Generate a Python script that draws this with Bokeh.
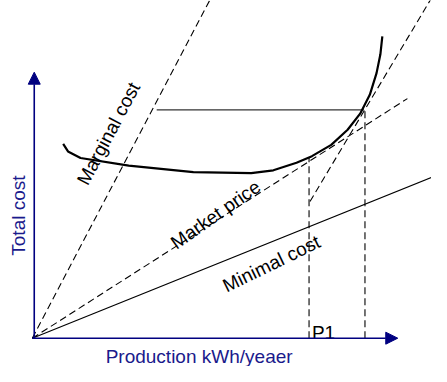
from bokeh.plotting import figure
from bokeh.models import Range1d, Arrow, NormalHead
from bokeh.core.properties import value
from bokeh.embed import file_html
from bokeh.resources import INLINE
import math

# ---- data (origin = zero production / zero cost) ----
cost_x = [32, 37, 50, 100, 167, 227, 250, 274, 290, 310, 327, 340, 350, 357, 361, 363]
cost_y = [206, 198, 191, 183, 176, 175, 178, 186, 193, 205, 221, 238, 258, 281, 301, 320]

marginal_x = [0, 188]
marginal_y = [0, 366]

market_x = [0, 389]
market_y = [0, 254]

tangent_x = [288, 416]
tangent_y = [145, 364]

minimal_x = [0, 420]
minimal_y = [0, 173]

level_x = [129, 344]
level_y = [242, 242]

p1_x = [287, 287]
p1_y = [0, 191]

p2_x = [345, 345]
p2_y = [0, 242]

xaxis_end = 379
yaxis_end = 282

FONT = value("Liberation Sans")
FS = "19px"

p = figure(width=431, height=366, output_backend="svg", toolbar_location=None,
           x_axis_type=None, y_axis_type=None,
           x_range=Range1d(-33, 414), y_range=Range1d(-30, 358),
           min_border=0, outline_line_color=None,
           background_fill_color="white", border_fill_color="white")
p.grid.visible = False

# lines
p.line(marginal_x, marginal_y, line_color="black", line_width=1.1, line_dash="7 4")
p.line(market_x, market_y, line_color="black", line_width=1.1, line_dash="7 4")
p.line(tangent_x, tangent_y, line_color="black", line_width=1.1, line_dash="7 4")
p.line(minimal_x, minimal_y, line_color="black", line_width=1.2)
p.line(level_x, level_y, line_color="#333333", line_width=1.3)
p.line(p1_x, p1_y, line_color="black", line_width=1.1, line_dash="7 4")
p.line(p2_x, p2_y, line_color="black", line_width=1.1, line_dash="7 4")
p.line(cost_x, cost_y, line_color="black", line_width=2.2)

# axes with arrows
p.add_layout(Arrow(end=NormalHead(size=12, fill_color="#000080", line_color="#000080"),
                   x_start=0, y_start=0, x_end=xaxis_end, y_end=0,
                   line_color="#000080", line_width=1.6))
p.add_layout(Arrow(end=NormalHead(size=12, fill_color="#000080", line_color="#000080"),
                   x_start=2, y_start=0, x_end=2, y_end=yaxis_end,
                   line_color="#000080", line_width=1.6))

# labels
p.text(x=[79], y=[217], text=["Marginal cost"], angle=math.radians(62),
       text_font=FONT, text_font_size=FS, text_color="black",
       text_align="center", text_baseline="middle")
p.text(x=[190], y=[131], text=["Market price"], angle=math.radians(35),
       text_font=FONT, text_font_size=FS, text_color="black",
       text_align="center", text_baseline="middle")
p.text(x=[248], y=[79], text=["Minimal cost"], angle=math.radians(26),
       text_font=FONT, text_font_size=FS, text_color="black",
       text_align="center", text_baseline="middle")
p.text(x=[290], y=[6], text=["P1"],
       text_font=FONT, text_font_size=FS, text_color="black",
       text_align="left", text_baseline="alphabetic")
p.text(x=[-14.5], y=[130], text=["Total cost"], angle=math.radians(90),
       text_font=FONT, text_font_size=FS, text_color="#1a1a8c",
       text_align="center", text_baseline="middle")
p.text(x=[173], y=[-19], text=["Production kWh/yeaer"],
       text_font=FONT, text_font_size=FS, text_color="#1a1a8c",
       text_align="center", text_baseline="alphabetic")

open("out.html", "w").write(file_html(p, INLINE))
